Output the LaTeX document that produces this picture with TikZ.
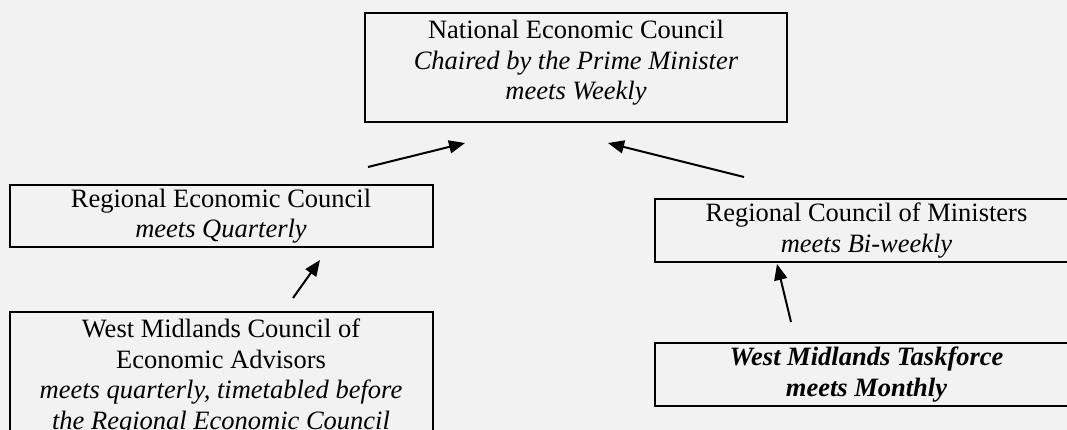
\documentclass[tikz,border=0pt]{standalone}
\usepackage{fontspec}
\setmainfont{Liberation Serif}
\usetikzlibrary{arrows.meta}

\begin{document}
\begin{tikzpicture}[x=1pt, y=-1pt, bx/.style={draw, line width=2pt, minimum width=423pt, align=center, inner sep=0pt, font=\fontsize{26.5}{30.5}\selectfont}, ar/.style={line width=2pt, -{Triangle[length=16pt, width=13pt]}}]
\useasboundingbox (0,0) rectangle (1067,430);
\clip (0,0) rectangle (1067,430);
\fill[gray!10] (0,0) rectangle (1067,430);
% boxes
\node[bx, minimum width=422pt, minimum height=109pt, text depth=15pt] (nec) at (576,67.5) {National Economic Council\\ \textit{Chaired by the Prime Minister}\\ \textit{meets Weekly}};
\node[bx, minimum height=62pt] (rec) at (221,216) {Regional Economic Council\\ \textit{meets Quarterly}};
\node[bx, minimum height=130pt, anchor=north] (wmcea) at (221,311) {West Midlands Council of\\ Economic Advisors\\ \textit{meets quarterly, timetabled before}\\ \textit{the Regional Economic Council}};
\node[bx, minimum height=63pt] (rcm) at (866.5,230.5) {Regional Council of Ministers\\ \textit{meets Bi-weekly}};
\node[bx, minimum height=63pt, font=\fontsize{26.5}{30.5}\selectfont\bfseries\itshape] (wmt) at (866.5,374.5) {West Midlands Taskforce\\ meets Monthly};
% arrow ends
\coordinate (rec-t) at (368,167); \coordinate (nec-l) at (465,143);
\coordinate (rcm-t) at (744,177); \coordinate (nec-r) at (608,143);
\coordinate (wmcea-t) at (293,298); \coordinate (rec-h) at (320,260);
\coordinate (wmt-t) at (791,322); \coordinate (rcm-h) at (777,264);
\draw[ar] (rec-t) -- (nec-l);
\draw[ar] (rcm-t) -- (nec-r);
\draw[ar] (wmcea-t) -- (rec-h);
\draw[ar] (wmt-t) -- (rcm-h);
\end{tikzpicture}
\end{document}
